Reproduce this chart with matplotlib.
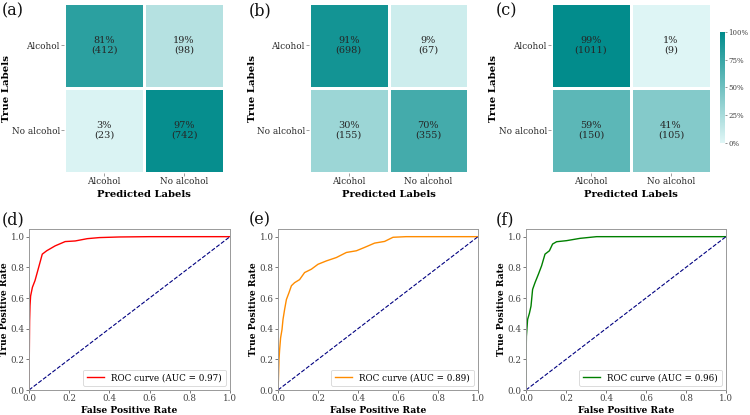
import numpy as np
import matplotlib
matplotlib.use("Agg")
import matplotlib.pyplot as plt
from matplotlib.colors import LinearSegmentedColormap

plt.rcParams["font.family"] = ["DejaVu Serif"]

class_names = ["Alcohol", "No alcohol"]

# confusion matrix counts (rows = true, cols = predicted)
cm_a = [[412, 98], [23, 742]]
cm_b = [[698, 67], [155, 355]]
cm_c = [[1011, 9], [150, 105]]

# ROC curves
fpr_d = [0, 0.003, 0.005, 0.008, 0.017, 0.03, 0.046, 0.066, 0.088, 0.13, 0.18, 0.23, 0.29, 0.35, 0.45, 0.6, 1.0]
tpr_d = [0, 0.45, 0.55, 0.613, 0.67, 0.714, 0.79, 0.886, 0.908, 0.94, 0.968, 0.972, 0.987, 0.994, 0.998, 1.0, 1.0]
auc_d = 0.97

fpr_e = [0, 0.002, 0.005, 0.008, 0.013, 0.02, 0.025, 0.033, 0.042, 0.055, 0.067, 0.083, 0.108, 0.133,
         0.167, 0.2, 0.242, 0.292, 0.342, 0.392, 0.433, 0.483, 0.533, 0.575, 0.64, 1.0]
tpr_e = [0, 0.066, 0.197, 0.26, 0.34, 0.394, 0.46, 0.525, 0.59, 0.635, 0.68, 0.70, 0.72, 0.766,
         0.788, 0.82, 0.842, 0.864, 0.897, 0.908, 0.93, 0.958, 0.969, 0.996, 1.0, 1.0]
auc_e = 0.89

fpr_f = [0, 0.0, 0.002, 0.008, 0.017, 0.025, 0.033, 0.045, 0.062, 0.078, 0.095, 0.117, 0.133, 0.153,
         0.203, 0.27, 0.353, 1.0]
tpr_f = [0, 0.153, 0.35, 0.46, 0.50, 0.547, 0.656, 0.70, 0.755, 0.81, 0.886, 0.908, 0.952, 0.967,
         0.974, 0.989, 1.0, 1.0]
auc_f = 0.96

cmap = LinearSegmentedColormap.from_list("teal", ["#e0f6f6", "#008b8b"])

fig = plt.figure(figsize=(7.5, 4.15), dpi=100)

W, H = 750, 415


def px_axes(x0, x1, y0, y1):
    return fig.add_axes([x0 / W, 1 - y1 / H, (x1 - x0) / W, (y1 - y0) / H])


def draw_cm(ax, cm):
    cm = np.array(cm, dtype=float)
    pct = cm / cm.sum(axis=1, keepdims=True)
    mesh = ax.pcolormesh(pct, cmap=cmap, vmin=0, vmax=1, edgecolors="white", linewidth=0.9)
    ax.set_xlim(0, 2)
    ax.set_ylim(2, 0)
    for i in range(2):
        for j in range(2):
            ax.text(j + 0.5, i + 0.5, f"{pct[i, j] * 100:.0f}%\n({int(cm[i, j])})",
                    ha="center", va="center", fontsize=7, color="#262626", linespacing=1.1)
    ax.set_xticks([0.5, 1.5])
    ax.set_xticklabels(class_names, fontsize=6.4, color="#262626")
    ax.set_yticks([0.5, 1.5])
    ax.set_yticklabels(class_names, fontsize=6.4, color="#262626")
    ax.tick_params(length=2, width=0.5, color="#777777", pad=1)
    for s in ax.spines.values():
        s.set_visible(False)
    ax.set_xlabel("Predicted Labels", fontsize=7.2, fontweight="bold", labelpad=3)
    ax.set_ylabel("True Labels", fontsize=7.4, fontweight="bold")
    ax.yaxis.set_label_coords(-0.33, 0.5)
    return mesh


def draw_roc(ax, fpr, tpr, auc, color):
    ax.plot(fpr, tpr, color=color, lw=1.0, label=f"ROC curve (AUC = {auc:.2f})")
    ax.plot([0, 1], [0, 1], color="navy", lw=0.8, ls="--")
    ax.set_xlim(0, 1)
    ax.set_ylim(0, 1.05)
    ax.set_xticks(np.arange(0, 1.01, 0.2))
    ax.set_yticks(np.arange(0, 1.01, 0.2))
    ax.tick_params(labelsize=6.3, colors="#444444", length=2, width=0.5, pad=1.2)
    for s in ax.spines.values():
        s.set_color("#999999")
        s.set_linewidth(0.7)
    ax.set_xlabel("False Positive Rate", fontsize=6.6, fontweight="bold", labelpad=2)
    ax.set_ylabel("True Positive Rate", fontsize=6.6, fontweight="bold")
    ax.yaxis.set_label_coords(-0.1, 0.5)
    leg = ax.legend(loc="lower right", fontsize=6.3, frameon=True, fancybox=True)
    leg.get_frame().set_edgecolor("#cccccc")
    leg.get_frame().set_linewidth(0.6)


ax_a = px_axes(64, 224, 3, 173)
ax_b = px_axes(309, 468, 3, 173)
ax_c = px_axes(551, 711, 3, 173)
draw_cm(ax_a, cm_a)
draw_cm(ax_b, cm_b)
mesh = draw_cm(ax_c, cm_c)

cax = px_axes(720, 725, 32, 143)
cb = fig.colorbar(mesh, cax=cax)
cb.outline.set_visible(False)
cb.set_ticks([0, 0.25, 0.5, 0.75, 1.0])
cb.set_ticklabels(["0%", "25%", "50%", "75%", "100%"])
cax.tick_params(labelsize=5, colors="#444444", length=1.5, width=0.4, pad=1)

ax_d = px_axes(29, 230, 229, 390)
ax_e = px_axes(278, 478, 229, 390)
ax_f = px_axes(526, 726, 229, 390)
draw_roc(ax_d, fpr_d, tpr_d, auc_d, "red")
draw_roc(ax_e, fpr_e, tpr_e, auc_e, "darkorange")
draw_roc(ax_f, fpr_f, tpr_f, auc_f, "green")

labels = ["(a)", "(b)", "(c)", "(d)", "(e)", "(f)"]
pos = [(2, 2), (249, 2), (496, 2), (2, 211), (249, 211), (496, 211)]
for lab, (x, y) in zip(labels, pos):
    fig.text(x / W, 1 - y / H, lab, fontsize=11.5, ha="left", va="top", color="#111111")

fig.savefig("out.png", dpi=100)
